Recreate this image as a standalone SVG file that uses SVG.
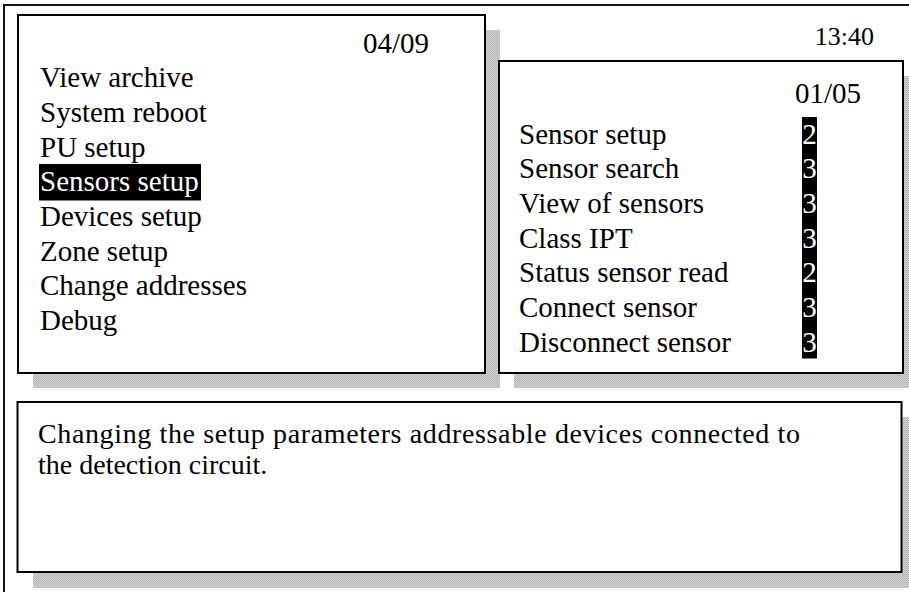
<svg xmlns="http://www.w3.org/2000/svg" width="909" height="592" viewBox="0 0 909 592">
  <defs>
    <pattern id="dither" width="2" height="2" patternUnits="userSpaceOnUse">
      <rect width="2" height="2" fill="#d4d4d4"/>
      <rect width="1" height="1" fill="#b4b4b4"/>
      <rect x="1" y="1" width="1" height="1" fill="#b4b4b4"/>
    </pattern>
  </defs>
  <style>
    .shadow { fill: url(#dither); }
    .panel { fill: #ffffff; stroke: #000000; stroke-width: 2; }
    .t { font-family: "Liberation Serif", "Times New Roman", serif; font-size: 29px; fill: #000000; }
    .d { font-size: 28px; }
    .w { fill: #ffffff; }
  </style>
  <rect width="909" height="592" fill="#ffffff"/>
  <g id="frame">
    <rect x="4" y="5" width="930" height="610" fill="none" stroke="#111111" stroke-width="2"/>
  </g>
  <g id="main-menu">
    <rect class="shadow" x="33" y="30" width="467" height="358"/>
    <rect class="panel" x="18" y="15" width="467" height="358"/>
    <text class="t" x="363" y="53">04/09</text>
    <text class="t" x="40" y="87">View archive</text>
    <text class="t" x="40" y="122">System reboot</text>
    <text class="t" x="40" y="156.5">PU setup</text>
    <rect x="39" y="164" width="162" height="36.5" fill="#000000"/>
    <text class="t w" x="40" y="191.3">Sensors setup</text>
    <text class="t" x="40" y="226">Devices setup</text>
    <text class="t" x="40" y="260.7">Zone setup</text>
    <text class="t" x="40" y="295.4">Change addresses</text>
    <text class="t" x="40" y="330">Debug</text>
  </g>
  <g id="clock">
    <text class="t" x="874" y="45" text-anchor="end" style="font-size:26px">13:40</text>
  </g>
  <g id="sensor-menu">
    <rect class="shadow" x="514" y="76" width="404" height="312"/>
    <rect class="panel" x="499" y="61" width="404" height="312"/>
    <text class="t" x="795" y="103">01/05</text>
    <rect x="802" y="117" width="15" height="241.5" fill="#000000"/>
    <text class="t" x="519" y="143.5">Sensor setup</text>
    <text class="t" x="519" y="178.2">Sensor search</text>
    <text class="t" x="519" y="212.9">View of sensors</text>
    <text class="t" x="519" y="247.6">Class IPT</text>
    <text class="t" x="519" y="282.3">Status sensor read</text>
    <text class="t" x="519" y="317">Connect sensor</text>
    <text class="t" x="519" y="351.7">Disconnect sensor</text>
    <text class="t w" x="809.5" y="143.5" text-anchor="middle">2</text>
    <text class="t w" x="809.5" y="178.2" text-anchor="middle">3</text>
    <text class="t w" x="809.5" y="212.9" text-anchor="middle">3</text>
    <text class="t w" x="809.5" y="247.6" text-anchor="middle">3</text>
    <text class="t w" x="809.5" y="282.3" text-anchor="middle">2</text>
    <text class="t w" x="809.5" y="317" text-anchor="middle">3</text>
    <text class="t w" x="809.5" y="351.7" text-anchor="middle">3</text>
  </g>
  <g id="description">
    <rect class="shadow" x="33" y="417" width="885" height="171"/>
    <rect class="panel" x="17.5" y="402" width="884" height="170"/>
    <text class="t d" x="38" y="443" textLength="762" lengthAdjust="spacing">Changing the setup parameters addressable devices connected to</text>
    <text class="t d" x="38" y="474">the detection circuit.</text>
  </g>
  <g id="connectors"/>
</svg>
